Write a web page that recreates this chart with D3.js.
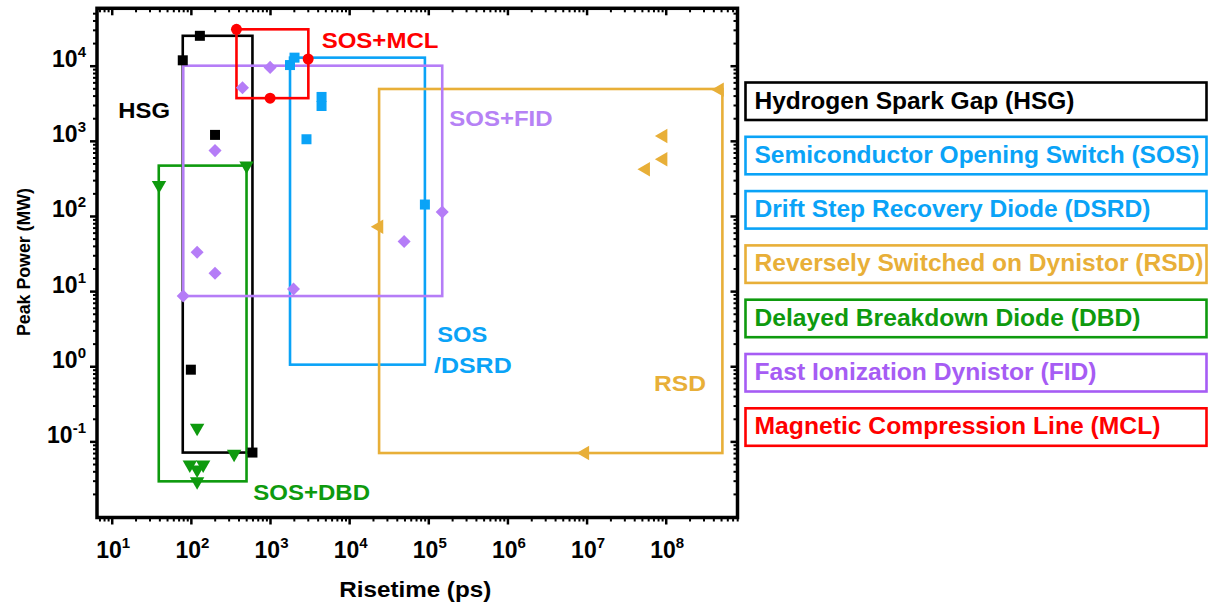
<!DOCTYPE html>
<html>
<head>
<meta charset="utf-8">
<script src="https://cdn.jsdelivr.net/npm/d3@7"></script>
<style>
  body { margin: 0; background: #fff; }
  text { font-family: "Liberation Sans", Arial, sans-serif; font-weight: bold; }
</style>
</head>
<body>
<svg id="chart" width="1208" height="604"></svg>
<script>
// ---- Data: risetime (ps) vs peak power (MW) for pulsed-power switch families ----
// Hydrogen spark gap
const hsgRise  = [79, 130, 202, 100, 600];
const hsgPower = [11800, 25000, 1200, 0.9, 0.071];
const hsgBox   = [79, 600, 0.071, 25000];          // [xMin, xMax, yMin, yMax]

// SOS / DSRD
const sosRise  = [1790, 2040, 4480, 4480, 2890, 90600];
const sosPower = [10200, 12800, 3840, 2910, 1050, 142];
const sosBox   = [1790, 90600, 1.05, 12800];

// Reversely switched dynistor
const rsdRise  = [4.8e8, 9.3e7, 9.3e7, 5.6e7, 23900, 9.55e6];
const rsdPower = [4800, 1160, 569, 419, 72, 0.070];
const rsdBox   = [23900, 5.2e8, 0.070, 4900];

// SOS + delayed breakdown diode
const dbdRise  = [39.6, 505, 120, 352, 97, 143, 120, 120];
const dbdPower = [257, 468, 0.151, 0.068, 0.049, 0.049, 0.042, 0.0294];
const dbdBox   = [39.3, 505, 0.0294, 468];

// SOS + fast ionization dynistor
const fidRise  = [80, 120, 202, 202, 449, 1003, 1982, 49500, 150000];
const fidPower = [8.6, 33, 17.3, 741, 5090, 9500, 10.7, 45.7, 113];
const fidBox   = [80, 150000, 8.6, 10000];

// SOS + magnetic compression line
const mclRise  = [377, 3035, 1003];
const mclPower = [30500, 12280, 3700];
const mclBox   = [377, 3050, 3700, 30500];

// Axis tick decades
const xDecades = [1, 2, 3, 4, 5, 6, 7, 8];
const yDecades = [-1, 0, 1, 2, 3, 4];

// Group labels inside the plot: [text, risetime, power, width, colour key]
const groupLabels = [
  ["HSG",     12.1,   1995,   51.7, "hsg"],
  ["SOS+MCL", 4500,   17070,  116.7, "mcl"],
  ["SOS+FID", 184000, 1574,   103.3, "fidL"],
  ["SOS",     130000, 2.12,   50,   "sos"],
  ["/DSRD",   118000, 0.805,  77.7, "sos"],
  ["RSD",     7.1e7,  0.472,  52,   "rsd"],
  ["SOS+DBD", 615,    0.01656, 116.7, "dbd"]
];

// Legend entries
const legendNames = [
  "Hydrogen Spark Gap (HSG)",
  "Semiconductor Opening Switch (SOS)",
  "Drift Step Recovery Diode (DSRD)",
  "Reversely Switched on Dynistor (RSD)",
  "Delayed Breakdown Diode (DBD)",
  "Fast Ionization Dynistor (FID)",
  "Magnetic Compression Line (MCL)"
];
const legendKeys   = ["hsg", "sos", "sos", "rsd", "dbd", "fidT", "mcl"];
const legendWidths = [320, 445, 396, 449, 386, 342, 406];

// ---- Styling ----
const colors = {
  hsg: "#000000",
  sos: "#0AA3F7",
  rsd: "#E8AF38",
  dbd: "#0E9A0E",
  fid: "#B57DF7",
  fidL: "#B682F5",
  fidT: "#A65CF4",
  mcl: "#FF0000"
};

const svg = d3.select("#chart");
const plot = { left: 97, right: 737.5, top: 8.3, bottom: 517.5 };

const x = d3.scaleLog()
  .domain([Math.pow(10, 0.814), Math.pow(10, 8.907)])
  .range([plot.left, plot.right]);
const y = d3.scaleLog()
  .domain([Math.pow(10, -2.013), Math.pow(10, 4.764)])
  .range([plot.bottom, plot.top]);

// minor tick values (2..9 x 10^n) inside a domain
function minorTicks(scale, nLo, nHi) {
  const [a, b] = scale.domain();
  const out = [];
  for (let n = nLo; n <= nHi; n++) {
    for (let k = 2; k <= 9; k++) {
      const v = k * Math.pow(10, n);
      if (v > a && v < b) out.push(v);
    }
  }
  return out;
}
const xMajor = xDecades.map(d => Math.pow(10, d));
const yMajor = yDecades.map(d => Math.pow(10, d));
const xMinor = minorTicks(x, 0, 8);
const yMinor = minorTicks(y, -3, 4);

// ---- Axes (ticks out on bottom/left, in on top/right) ----
function drawTicks(axisFn, scale, values, size, transform, width) {
  const g = svg.append("g")
    .attr("transform", transform)
    .call(axisFn(scale).tickValues(values).tickSize(size).tickFormat(""));
  g.select(".domain").remove();
  g.selectAll(".tick line").attr("stroke", "#000").attr("stroke-width", width);
  return g;
}
drawTicks(d3.axisBottom, x, xMinor, 4, `translate(0,${plot.bottom})`, 2);
const xAxisG = drawTicks(d3.axisBottom, x, xMajor, 7, `translate(0,${plot.bottom})`, 2.5);
drawTicks(d3.axisTop, x, xMinor, -4, `translate(0,${plot.top})`, 2);
drawTicks(d3.axisTop, x, xMajor, -7, `translate(0,${plot.top})`, 2.5);
drawTicks(d3.axisLeft, y, yMinor, 4, `translate(${plot.left},0)`, 2);
const yAxisG = drawTicks(d3.axisLeft, y, yMajor, 7, `translate(${plot.left},0)`, 2.5);
drawTicks(d3.axisRight, y, yMinor, -4, `translate(${plot.right},0)`, 2);
drawTicks(d3.axisRight, y, yMajor, -7, `translate(${plot.right},0)`, 2.5);

// power-of-ten tick labels
function powLabel(sel, exp) {
  sel.text(null);
  sel.append("tspan").attr("font-size", 23).text("10");
  sel.append("tspan").attr("font-size", 15).attr("dy", -10).text(exp);
}
xAxisG.selectAll(".tick").each(function(d) {
  const t = d3.select(this).append("text")
    .attr("x", 1).attr("y", 40).attr("fill", "#000")
    .attr("text-anchor", "middle");
  powLabel(t, String(Math.round(Math.log10(d))));
});
yAxisG.selectAll(".tick").each(function(d) {
  const t = d3.select(this).append("text")
    .attr("x", -11).attr("y", 1).attr("fill", "#000")
    .attr("text-anchor", "end");
  powLabel(t, String(Math.round(Math.log10(d))));
});

// frame
svg.append("rect")
  .attr("x", plot.left).attr("y", plot.top)
  .attr("width", plot.right - plot.left).attr("height", plot.bottom - plot.top)
  .attr("fill", "none").attr("stroke", "#000").attr("stroke-width", 3.5);

// axis titles
svg.append("text")
  .attr("x", (plot.left + plot.right) / 2 - 2).attr("y", 597)
  .attr("text-anchor", "middle").attr("font-size", 22)
  .attr("textLength", 152).attr("lengthAdjust", "spacingAndGlyphs")
  .text("Risetime (ps)");
svg.append("text")
  .attr("transform", "translate(30,262) rotate(-90)")
  .attr("text-anchor", "middle").attr("font-size", 19)
  .attr("textLength", 148).attr("lengthAdjust", "spacingAndGlyphs")
  .text("Peak Power (MW)");

// ---- Series: bounding box + markers ----
const series = [
  { key: "hsg", rise: hsgRise, power: hsgPower, box: hsgBox, shape: "square" },
  { key: "sos", rise: sosRise, power: sosPower, box: sosBox, shape: "square" },
  { key: "rsd", rise: rsdRise, power: rsdPower, box: rsdBox, shape: "left" },
  { key: "dbd", rise: dbdRise, power: dbdPower, box: dbdBox, shape: "down" },
  { key: "fid", rise: fidRise, power: fidPower, box: fidBox, shape: "diamond" },
  { key: "mcl", rise: mclRise, power: mclPower, box: mclBox, shape: "circle" }
];

const boxLayer = svg.append("g");
const markLayer = svg.append("g");

series.forEach(s => {
  const [x0, x1, y0, y1] = s.box;
  boxLayer.append("rect")
    .attr("x", x(x0)).attr("y", y(y1))
    .attr("width", x(x1) - x(x0)).attr("height", y(y0) - y(y1))
    .attr("fill", "none").attr("stroke", colors[s.key]).attr("stroke-width", 2.6);
});

function symbolFor(shape) {
  switch (shape) {
    case "square":  return { path: d3.symbol().type(d3.symbolSquare).size(100)(), rot: 0 };
    case "diamond": return { path: d3.symbol().type(d3.symbolSquare).size(85)(), rot: 45 };
    case "circle":  return { path: d3.symbol().type(d3.symbolCircle).size(95)(), rot: 0 };
    case "down":    return { path: d3.symbol().type(d3.symbolTriangle).size(90)(), rot: 180 };
    case "left":    return { path: d3.symbol().type(d3.symbolTriangle).size(90)(), rot: -90 };
  }
}

series.forEach(s => {
  const sym = symbolFor(s.shape);
  const pts = s.rise.map((r, i) => [r, s.power[i]]);
  markLayer.selectAll(null).data(pts).enter().append("path")
    .attr("d", sym.path)
    .attr("transform", d => `translate(${x(d[0])},${y(d[1])}) rotate(${sym.rot})`)
    .attr("fill", colors[s.key]);
});

// group labels
svg.append("g").selectAll("text").data(groupLabels).enter().append("text")
  .attr("x", d => x(d[1])).attr("y", d => y(d[2]))
  .attr("font-size", 22)
  .attr("textLength", d => d[3]).attr("lengthAdjust", "spacingAndGlyphs")
  .attr("fill", d => colors[d[4]])
  .text(d => d[0]);

// ---- Legend ----
const legend = svg.append("g");
const legTop = 82.5, legStep = 54.3, legH = 37.5, legX = 745.5, legW = 461;
legendNames.forEach((name, i) => {
  const c = colors[legendKeys[i]];
  const top = legTop + i * legStep;
  legend.append("rect")
    .attr("x", legX).attr("y", top).attr("width", legW).attr("height", legH)
    .attr("fill", "none").attr("stroke", c).attr("stroke-width", 2.6);
  legend.append("text")
    .attr("x", legX + 9).attr("y", top + 26)
    .attr("font-size", 24)
    .attr("textLength", legendWidths[i]).attr("lengthAdjust", "spacingAndGlyphs")
    .attr("fill", c)
    .text(name);
});
</script>
</body>
</html>
